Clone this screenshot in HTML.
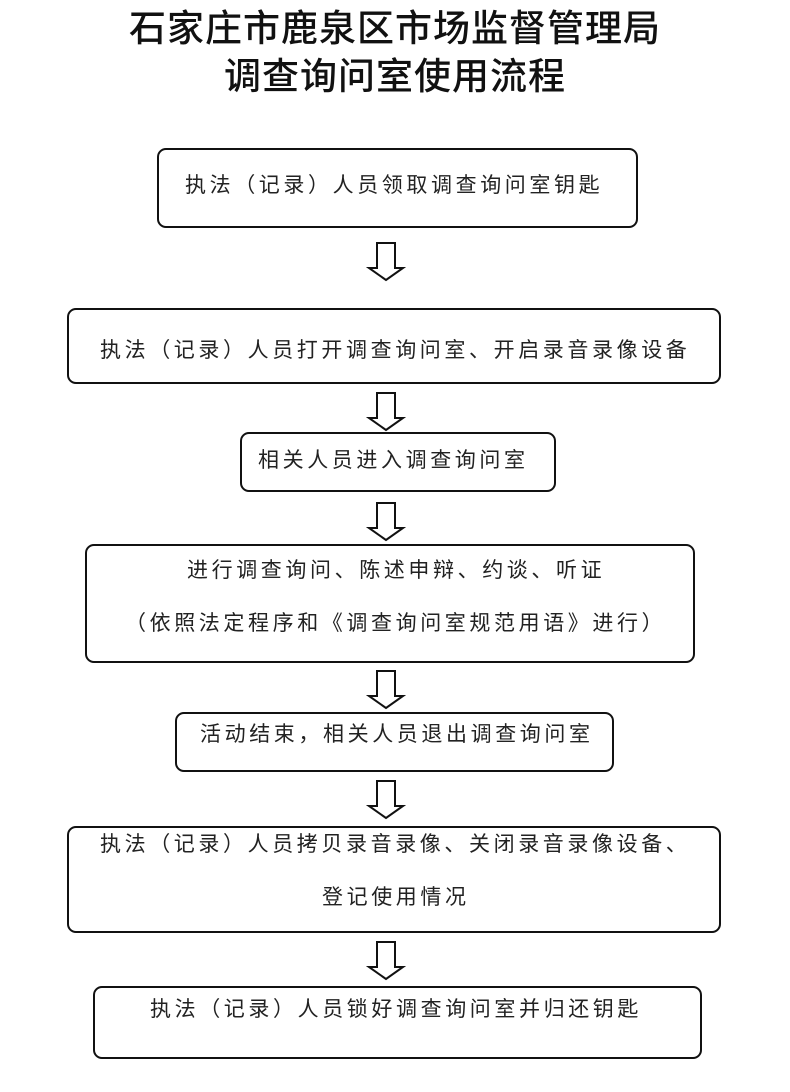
<!DOCTYPE html>
<html><head><meta charset="utf-8">
<style>
body{margin:0;background:#fff;}
#c{position:relative;width:790px;height:1092px;overflow:hidden;background:#fff;font-family:"Liberation Sans","Noto Sans CJK SC","WenQuanYi Zen Hei",sans-serif;}
.b{position:absolute;border:2px solid #111;border-radius:9px;box-sizing:border-box;}
.t{position:absolute;font-size:21px;letter-spacing:3.6px;color:#222;white-space:nowrap;line-height:24px;}
.h{position:absolute;left:0;width:790px;text-align:center;font-size:37px;font-weight:500;letter-spacing:1px;color:#111;line-height:44px;}
</style></head><body><div id="c">
<div class="h" style="top:7px">石家庄市鹿泉区市场监督管理局</div>
<div class="h" style="top:55px">调查询问室使用流程</div>

<div class="b" style="left:157px;top:148px;width:481px;height:80px"></div>
<div class="t" style="left:185px;top:174px">执法（记录）人员领取调查询问室钥匙</div>

<div class="b" style="left:67px;top:308px;width:654px;height:76px"></div>
<div class="t" style="left:100px;top:339px">执法（记录）人员打开调查询问室、开启录音录像设备</div>

<div class="b" style="left:240px;top:432px;width:316px;height:60px"></div>
<div class="t" style="left:258px;top:449px">相关人员进入调查询问室</div>

<div class="b" style="left:85px;top:544px;width:610px;height:119px"></div>
<div class="t" style="left:187px;top:559px">进行调查询问、陈述申辩、约谈、听证</div>
<div class="t" style="left:125px;top:612px">（依照法定程序和《调查询问室规范用语》进行）</div>

<div class="b" style="left:175px;top:712px;width:439px;height:60px"></div>
<div class="t" style="left:200px;top:723px">活动结束，相关人员退出调查询问室</div>

<div class="b" style="left:67px;top:826px;width:654px;height:107px"></div>
<div class="t" style="left:100px;top:833px">执法（记录）人员拷贝录音录像、关闭录音录像设备、</div>
<div class="t" style="left:322px;top:886px">登记使用情况</div>

<div class="b" style="left:93px;top:986px;width:609px;height:73px"></div>
<div class="t" style="left:150px;top:998px">执法（记录）人员锁好调查询问室并归还钥匙</div>

<svg width="790" height="1092" style="position:absolute;left:0;top:0" fill="none" stroke="#111" stroke-width="2">
<defs><polygon id="a" points="377,0 395,0 395,25 403,25 386,37 369,25 377,25"/></defs>
<use href="#a" y="243"/>
<use href="#a" y="393"/>
<use href="#a" y="503"/>
<use href="#a" y="671"/>
<use href="#a" y="781"/>
<use href="#a" y="942"/>
</svg>
</div></body></html>
